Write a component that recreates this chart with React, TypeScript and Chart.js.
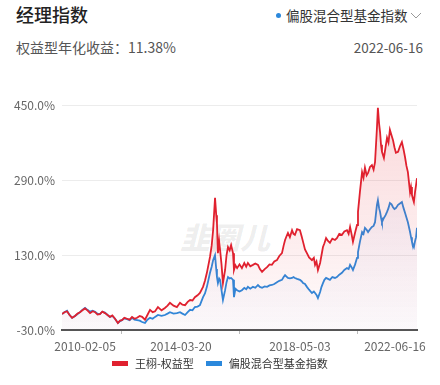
import React, { useEffect, useRef } from "react";
import { Chart, registerables } from "chart.js";

Chart.register(...registerables);

// months since 2010-02-05
const months = [
  0, 1, 2.1, 3, 4.2, 5.4, 6.5, 7.5, 8.5, 9.6, 10.6, 11.7, 12.8, 13.8, 14.8, 15.8, 16.8, 17.9, 19, 20.0,
  21, 22.1, 23.3, 24.2, 25.0, 26, 27.1, 28.2, 29.2, 30.2, 31.3, 32.4, 33.4, 34.6, 35.6, 36.7, 37.8, 38.8, 40.0, 41.5,
  42.9, 44, 45.0, 46.5, 47.9, 49.2, 50.2, 51.3, 52.4, 53.4, 54.4, 55.4, 56.5, 57.5, 58.8, 59.6, 60.4, 61.7, 62.4, 63.0,
  63.8, 64.3, 64.6, 65.0, 65.5, 65.9, 66.5, 67.1, 68.0, 68.6, 69.2, 69.9, 70.5, 71.3, 71.7, 72.3, 73.0, 74, 75.0, 76,
  76.8, 77.5, 78.5, 79.6, 80.6, 81.7, 82.5, 83.4, 84.5, 85.5, 86.5, 87.5, 88.5, 89.6, 90.6, 91.7, 92.4, 93.0, 93.6, 94.2,
  95, 95.9, 96.5, 97.1, 98, 99.2, 99.9, 100.5, 101.3, 102.1, 103, 104.2, 105, 105.5, 106.1, 106.7, 107.6, 108.2, 108.8, 109.4,
  110.1, 110.9, 111.7, 112.7, 113.8, 114.6, 115.6, 116.7, 117.7, 118.8, 119.5, 120.1, 120.7, 121.3, 122.2, 123.0, 123.4, 124.2, 125.1, 125.7,
  126.3, 127, 127.6, 128.4, 129.2, 129.9, 130.5, 131.3, 131.7, 132.2, 132.6, 133, 133.4, 134.2, 134.9, 135.5, 136.1, 136.7, 137.4, 138.0,
  138.6, 139.2, 140.1, 140.9, 141.7, 142.4, 143.0, 143.6, 144.2, 145.1, 145.5, 145.9, 146.3, 146.7, 147.2, 147.6, 148,
];

const managerReturn = [
  4, 8, 10, 3, -4, 0, 5, 8, 12, 16, 12, 6, 10, 8, 3, 4, 9, 6, 2, -2,
  1, -6, -15, -10, -9, -4, -6, -8, -2, -6, -4, 0, -2, -8, 2, 13, 8, 10, 19, 12,
  17, 22, 28, 22, 19, 28, 24, 23, 30, 34, 33, 40, 44, 49, 62, 75, 92, 126, 150, 183,
  252, 215, 198, 134, 160, 141, 110, 70, 98, 130, 147, 140, 151, 134, 98, 108, 102, 110, 102, 113,
  105, 113, 106, 109, 112, 109, 100, 94, 100, 104, 110, 109, 116, 119, 128, 134, 150, 162, 170, 177,
  168, 183, 175, 173, 185, 183, 170, 158, 142, 134, 125, 119, 124, 109, 116, 98, 113, 130, 147, 155,
  166, 160, 156, 165, 162, 166, 175, 173, 180, 183, 175, 190, 175, 158, 178, 194, 222, 264, 307, 295,
  316, 300, 305, 318, 322, 312, 328, 401, 444, 410, 392, 365, 350, 337, 360, 380, 370, 397, 385, 375,
  360, 348, 350, 362, 371, 355, 339, 320, 307, 264, 275, 258, 250, 243, 265, 279, 294,
];

const indexReturn = [
  4, 8, 11, 3, -4, 0, 4, 8, 13, 17, 13, 9, 11, 9, 5, 4, 9, 7, 2, -2,
  0, -6, -15, -11, -9, -5, -7, -9, -4, -8, -9, -10, -13, -15, -8, -4, -6, -2, 2, 0,
  2, 5, 8, 5, 6, 8, 5, 2, 8, 13, 12, 19, 20, 23, 40, 48, 62, 92, 105, 119,
  130, 100, 83, 70, 80, 77, 55, 34, 55, 72, 83, 80, 81, 77, 40, 58, 55, 52, 55, 60,
  57, 62, 58, 62, 60, 66, 62, 60, 63, 62, 65, 66, 68, 72, 75, 77, 83, 87, 84, 81,
  80, 81, 83, 81, 79, 77, 74, 70, 68, 62, 56, 49, 52, 49, 45, 38, 51, 62, 70, 77,
  81, 79, 77, 83, 81, 83, 88, 92, 98, 102, 100, 109, 104, 98, 110, 124, 136, 158, 179, 175,
  188, 184, 179, 185, 190, 192, 200, 237, 247, 230, 222, 210, 200, 209, 215, 222, 230, 241, 238, 232,
  228, 230, 237, 240, 243, 230, 220, 210, 200, 179, 168, 158, 152, 147, 160, 168, 188,
];

const yTicks = [-30, 130, 290, 450];
const xLabelMonths = [9.6, 49.6, 99.2, 138.8];
const xLabels = ["2010-02-05", "2014-03-20", "2018-05-03", "2022-06-16"];
const xMarkMonths = [24.6, 73.8, 123.4];

const seriesNames = ["王栩-权益型", "偏股混合型基金指数"];
const RED = "#e0212f";
const BLUE = "#2b88dc";
const FONT = '"Noto Sans CJK SC", "Noto Sans", sans-serif';

export default function App() {
  const ref = useRef<HTMLCanvasElement>(null);

  useEffect(() => {
    document.body.style.margin = "0";
    const canvas = ref.current!;
    const grad = (c1: string, c2: string) => (context: any) => {
      const chart = context.chart;
      const area = chart.chartArea;
      if (!area) return c2;
      const g = chart.ctx.createLinearGradient(0, area.top, 0, area.bottom);
      g.addColorStop(0, c1);
      g.addColorStop(1, c2);
      return g;
    };
    const redPts = months.map((m, i) => ({ x: m, y: managerReturn[i] }));
    const bluePts = months.map((m, i) => ({ x: m, y: indexReturn[i] }));
    const allX = [...xLabelMonths, ...xMarkMonths].sort((a, b) => a - b);

    const chart = new Chart(canvas, {
      type: "line",
      data: {
        datasets: [
          {
            label: seriesNames[0],
            data: redPts,
            borderColor: RED,
            borderWidth: 1.8,
            pointRadius: 0,
            tension: 0,
            fill: "start",
            backgroundColor: grad("rgba(230,60,70,0.2)", "rgba(230,60,70,0.02)"),
          },
          {
            label: seriesNames[1],
            data: bluePts,
            borderColor: BLUE,
            borderWidth: 1.8,
            pointRadius: 0,
            tension: 0,
            fill: "start",
            backgroundColor: grad("rgba(80,110,220,0.08)", "rgba(80,110,220,0.02)"),
          },
        ],
      },
      options: {
        animation: false,
        responsive: false,
        layout: { padding: { top: 105, right: 23, bottom: 30, left: 0 } },
        plugins: { legend: { display: false }, tooltip: { enabled: false } },
        scales: {
          x: {
            type: "linear",
            min: 0,
            max: 148,
            afterBuildTicks: (s: any) => {
              s.ticks = allX.map((v) => ({ value: v }));
            },
            afterFit: (s: any) => {
              s.height = 25;
            },
            ticks: {
              autoSkip: false,
              maxRotation: 0,
              padding: 5,
              color: "#666",
              font: { family: FONT, size: 12 },
              callback: (v: any) => {
                const i = xLabelMonths.indexOf(Number(v));
                return i >= 0 ? xLabels[i] : "";
              },
            },
            grid: {
              drawOnChartArea: false,
              drawTicks: true,
              tickLength: 4,
              tickColor: (ctx: any) => (xMarkMonths.includes(ctx.tick?.value) ? "#bbb" : "rgba(0,0,0,0)"),
            },
            border: { color: "#555", width: 2 },
          },
          y: {
            min: -30,
            max: 450,
            afterBuildTicks: (s: any) => {
              s.ticks = yTicks.map((v) => ({ value: v }));
            },
            afterFit: (s: any) => {
              s.width = 62;
            },
            ticks: {
              padding: 7,
              color: "#666",
              font: { family: FONT, size: 12 },
              callback: (v: any) => Number(v).toFixed(1) + "%",
            },
            grid: { color: "#ececec", drawTicks: false },
            border: { display: false },
          },
        },
      },
    });
    return () => chart.destroy();
  }, []);

  const abs = (s: React.CSSProperties): React.CSSProperties => ({ position: "absolute", whiteSpace: "nowrap", ...s });

  return (
    <div style={{ position: "relative", width: 440, height: 385, background: "#fff", fontFamily: FONT, overflow: "hidden" }}>
      <div style={abs({ left: 16, top: 4, fontSize: 18, lineHeight: "20px", color: "#222", fontWeight: 500 })}>经理指数</div>
      <div style={abs({ left: 276, top: 13, width: 5, height: 5, borderRadius: 3, background: BLUE })} />
      <div style={abs({ left: 286, top: 6, fontSize: 13.5, lineHeight: "18px", color: "#333" })}>偏股混合型基金指数</div>
      <svg style={abs({ left: 410, top: 12 })} width="12" height="8">
        <polyline points="1,1 6,6 11,1" fill="none" stroke="#999" strokeWidth="1" />
      </svg>
      <div style={abs({ left: 16, top: 38, fontSize: 14, lineHeight: "18px", color: "#555" })}>权益型年化收益：11.38%</div>
      <div style={abs({ right: 17, top: 38, fontSize: 13.5, lineHeight: "18px", color: "#555" })}>2022-06-16</div>
      <div style={abs({ left: 180, top: 220, fontSize: 30, lineHeight: "32px", fontWeight: 900, fontStyle: "italic", color: "rgba(0,0,0,0.07)" })}>韭圈儿</div>
      <canvas ref={ref} width={440} height={385} style={abs({ left: 0, top: 0 })} />
      <div style={abs({ left: 112, top: 355, display: "flex", alignItems: "center", fontSize: 11, lineHeight: "16px", color: "#333" })}>
        <span style={{ display: "inline-block", width: 16, height: 5, background: RED, marginRight: 7 }} />
        <span>{seriesNames[0]}</span>
        <span style={{ display: "inline-block", width: 16, height: 5, background: BLUE, marginLeft: 12, marginRight: 7 }} />
        <span>{seriesNames[1]}</span>
      </div>
    </div>
  );
}
